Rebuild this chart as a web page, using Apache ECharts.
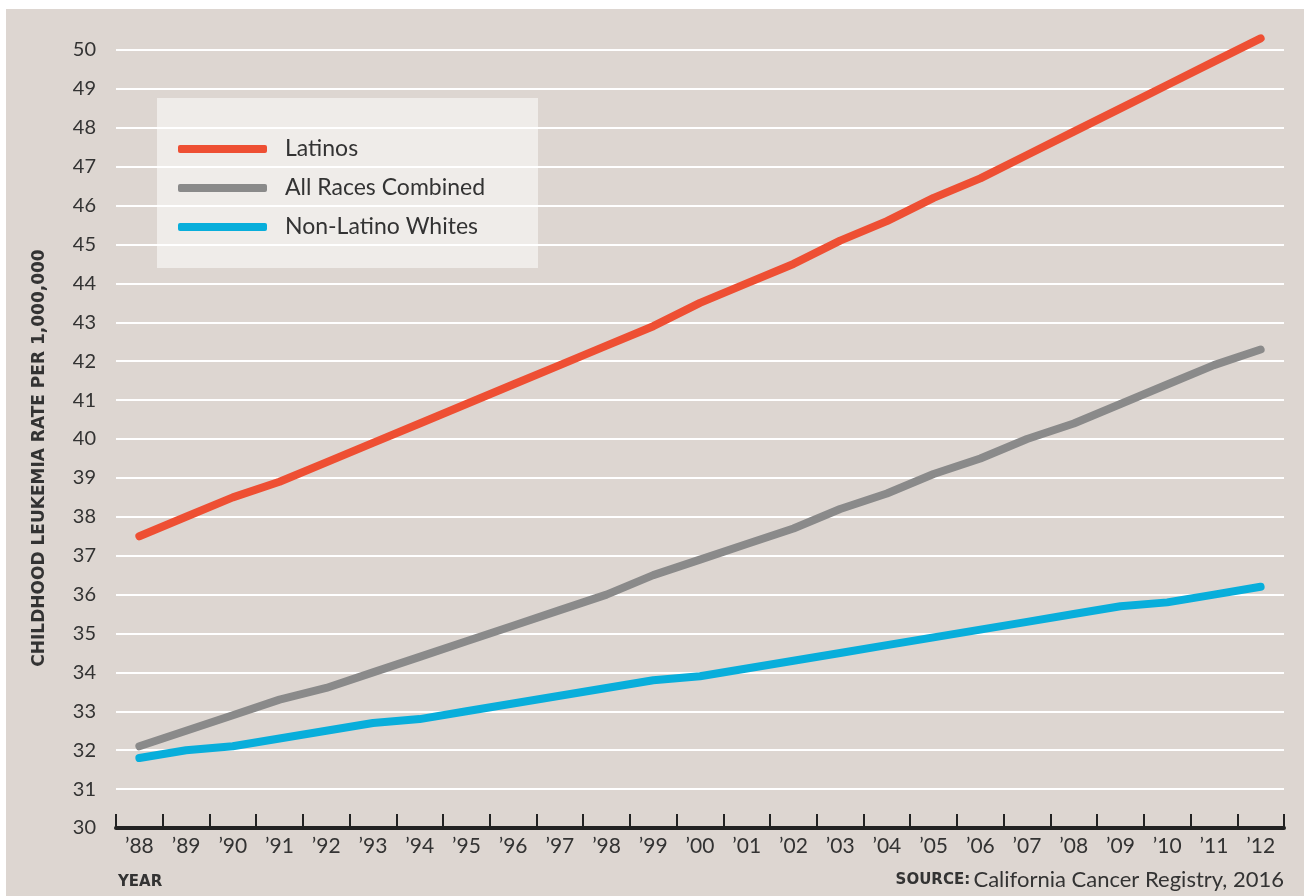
<!DOCTYPE html>
<html>
<head>
<meta charset="utf-8">
<script src="https://cdn.jsdelivr.net/npm/echarts@6/dist/echarts.min.js"></script>
<style>
  html, body { margin: 0; padding: 0; background: #ffffff; width: 1304px; height: 896px; overflow: hidden; }
  #chart { position: absolute; left: 6px; top: 9px; width: 1298px; height: 887px; background: #DDD6D1; }
</style>
</head>
<body>
<div id="chart"></div>
<script>
const years = ["’88","’89","’90","’91","’92","’93","’94","’95","’96","’97","’98","’99","’00","’01","’02","’03","’04","’05","’06","’07","’08","’09","’10","’11","’12"];
const latinos = [37.5,38.0,38.5,38.9,39.4,39.9,40.4,40.9,41.4,41.9,42.4,42.9,43.5,44.0,44.5,45.1,45.6,46.2,46.7,47.3,47.9,48.5,49.1,49.7,50.3];
const allRaces = [32.1,32.5,32.9,33.3,33.6,34.0,34.4,34.8,35.2,35.6,36.0,36.5,36.9,37.3,37.7,38.2,38.6,39.1,39.5,40.0,40.4,40.9,41.4,41.9,42.3];
const nonLatinoWhites = [31.8,32.0,32.1,32.3,32.5,32.7,32.8,33.0,33.2,33.4,33.6,33.8,33.9,34.1,34.3,34.5,34.7,34.9,35.1,35.3,35.5,35.7,35.8,36.0,36.2];
const seriesNames = ["Latinos","All Races Combined","Non-Latino Whites"];
const yMin = 30, yMax = 50, yStep = 1;

const FONT = 'Lato, "Open Sans", sans-serif';
const CAPS = '"DejaVu Sans", sans-serif';
const chart = echarts.init(document.getElementById('chart'), null, { renderer: 'canvas' });

function lineSeries(name, data, color) {
  return {
    name: name, type: 'line', data: data, symbol: 'none', clip: false,
    itemStyle: { color: color },
    lineStyle: { color: color, width: 8, cap: 'round', join: 'round' },
    emphasis: { disabled: true }
  };
}

chart.setOption({
  backgroundColor: 'transparent',
  animation: false,
  textStyle: { fontFamily: FONT },
  grid: { left: 110, right: 20, top: 41, bottom: 68, containLabel: false },
  graphic: [
    { type: 'rect', left: 151, top: 89, shape: { width: 381, height: 170 },
      style: { fill: 'rgba(255,255,255,0.53)' }, z: 1 },
    { type: 'text', x: 34, y: 449, rotation: Math.PI / 2,
      style: { text: 'CHILDHOOD LEUKEMIA RATE PER 1,000,000', fill: '#333', font: 'bold 17px ' + CAPS,
        textAlign: 'center', textVerticalAlign: 'middle' } },
    { type: 'text', x: 112, y: 873,
      style: { text: 'YEAR', fill: '#333', font: 'bold 15px ' + CAPS, textAlign: 'left', textVerticalAlign: 'middle' } },
    { type: 'text', x: 1278, y: 871,
      style: {
        text: '{s|SOURCE:} {t|California Cancer Registry, 2016}',
        textAlign: 'right', textVerticalAlign: 'middle',
        rich: {
          s: { fontFamily: CAPS, fontSize: 15, fontWeight: 'bold', fill: '#333', color: '#333' },
          t: { fontFamily: FONT, fontSize: 22, fill: '#333', color: '#333' }
        }
      } }
  ],
  legend: {
    orient: 'vertical', left: 172, top: 126, padding: 0,
    itemWidth: 89, itemHeight: 8, itemGap: 11,
    icon: 'roundRect',
    data: seriesNames,
    selectedMode: false,
    textStyle: { fontFamily: FONT, fontSize: 23, color: '#333', lineHeight: 28, padding: [0, 0, 0, 13] }
  },
  xAxis: {
    type: 'category', data: years, boundaryGap: true,
    axisLine: { show: true, lineStyle: { color: '#222', width: 4 } },
    axisTick: { show: true, inside: true, length: 14, lineStyle: { color: '#222', width: 2 } },
    axisLabel: { fontFamily: FONT, fontSize: 21, color: '#333', margin: 8 },
    splitLine: { show: false }
  },
  yAxis: {
    type: 'value', min: yMin, max: yMax, interval: yStep,
    axisLine: { show: false }, axisTick: { show: false },
    axisLabel: { fontFamily: FONT, fontSize: 20, color: '#333', margin: 20, padding: [0, 0, 10, 0] },
    splitLine: { show: true, lineStyle: { color: '#ffffff', width: 2 } }
  },
  series: [
    lineSeries(seriesNames[0], latinos, '#EE4F33'),
    lineSeries(seriesNames[1], allRaces, '#8A8A8A'),
    lineSeries(seriesNames[2], nonLatinoWhites, '#08AEDB')
  ]
});
</script>
</body>
</html>
